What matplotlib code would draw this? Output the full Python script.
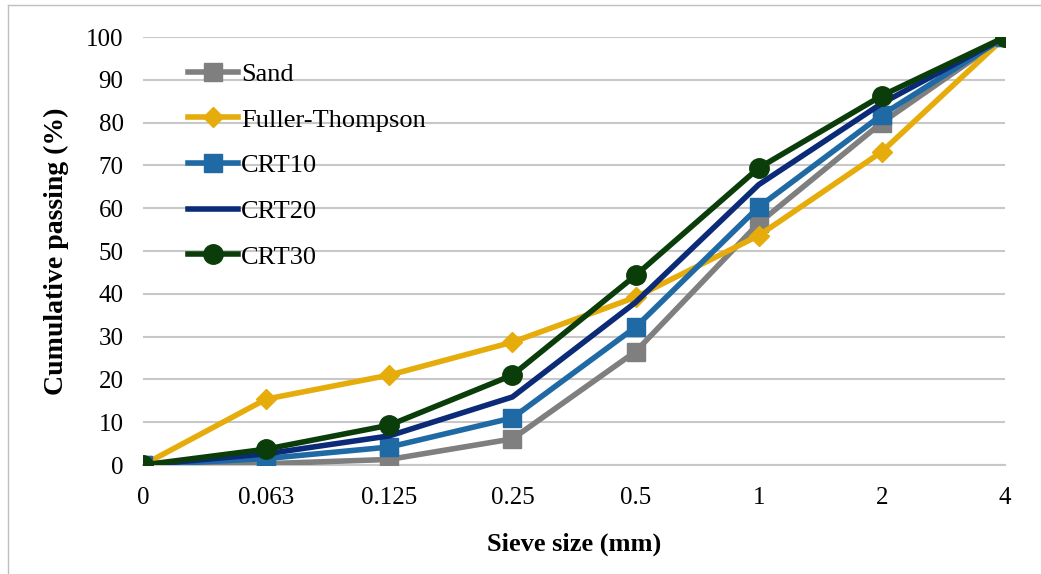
import matplotlib.pyplot as plt
from matplotlib.lines import Line2D

sieve = ['0', '0.063', '0.125', '0.25', '0.5', '1', '2', '4']
sand = [0, 0.3, 1.3, 6.1, 26.5, 56.5, 80.0, 100]
fuller = [0, 15.4, 21.0, 28.7, 39.2, 53.6, 73.2, 100]
crt10 = [0, 1.5, 4.2, 11.0, 32.2, 60.3, 81.8, 100]
crt20 = [0, 2.6, 6.8, 15.9, 38.0, 65.5, 84.5, 100]
crt30 = [0, 3.7, 9.3, 21.0, 44.3, 69.4, 86.3, 100]

plt.rcParams['font.family'] = ['Liberation Serif', 'DejaVu Serif']

fig = plt.figure(figsize=(10.41, 5.74), dpi=100)
ax = fig.add_axes([143 / 1041, 1 - 465 / 574, (1005 - 143) / 1041, (465 - 37) / 574])

x = range(len(sieve))
ax.plot(x, sand, color='#7f7f7f', lw=4, marker='s', ms=13, label='Sand', zorder=3)
ax.plot(x, fuller, color='#e5ac0b', lw=4, marker='D', ms=10, label='Fuller-Thompson', zorder=4)
ax.plot(x, crt10, color='#1f6aa5', lw=4, marker='s', ms=13, label='CRT10', zorder=5)
ax.plot(x, crt20, color='#0b2a78', lw=4, label='CRT20', zorder=6)
ax.plot(x, crt30, color='#0b3d0b', lw=4, marker='o', ms=14, label='CRT30', zorder=7)

ax.set_xlim(0, 7)
ax.set_ylim(0, 100)
ax.set_xticks(list(x))
ax.set_xticklabels(sieve)
ax.set_yticks(range(0, 101, 10))
ax.tick_params(length=0, labelsize=18)
ax.tick_params(axis='y', pad=14)
ax.tick_params(axis='x', pad=16)
ax.grid(axis='y', color='#c8c8c8', lw=1.5)
ax.set_axisbelow(True)
for s in ['top', 'right', 'left']:
    ax.spines[s].set_visible(False)
ax.spines['bottom'].set_color('#c8c8c8')
ax.spines['bottom'].set_linewidth(1.5)
for lbl in ax.get_xticklabels() + ax.get_yticklabels():
    lbl.set_clip_on(False)

ax.set_xlabel('Sieve size (mm)', fontsize=19, fontweight='bold', labelpad=17)
ax.set_ylabel('Cumulative passing (%)', fontsize=20, fontweight='bold', labelpad=12)

leg = ax.legend(loc='upper left', bbox_to_anchor=(0.04, 0.965), frameon=False,
                fontsize=19, handlelength=1.9, handletextpad=0.1, labelspacing=0.84,
                borderaxespad=0)

# thin frame around the figure (left and top)
fig.add_artist(Line2D([8 / 1041, 8 / 1041], [0, 1 - 5 / 574], color='#bfbfbf', lw=1))
fig.add_artist(Line2D([8 / 1041, 1], [1 - 5 / 574, 1 - 5 / 574], color='#bfbfbf', lw=1))

fig.savefig('out.png', dpi=100)
